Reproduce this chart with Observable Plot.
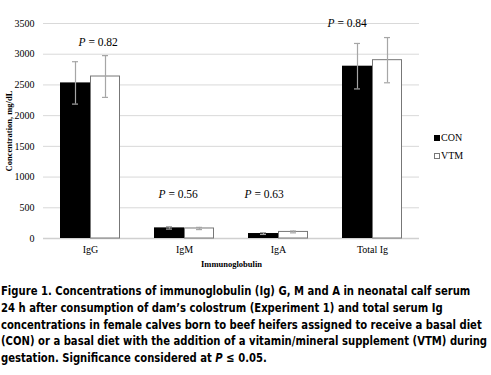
<!DOCTYPE html>
<html>
<head>
<meta charset="utf-8">
<script src="https://cdn.jsdelivr.net/npm/d3@7"></script>
<script src="https://cdn.jsdelivr.net/npm/@observablehq/plot@0.6"></script>
<style>
  html, body { margin: 0; padding: 0; background: #fff; }
  #wrap { position: relative; width: 491px; overflow: hidden; }
  [aria-label="y-axis label"], [aria-label="x-axis label"] { font-weight: bold; font-size: 8.5px; }
  #legend { position: absolute; left: 434px; top: 129px; font: 10px "Liberation Serif", serif; color: #000; line-height: 18px; }
  #legend .sw { display: inline-block; width: 6px; height: 6px; margin-right: 1px; vertical-align: 0px; box-sizing: border-box; }
  #caption { font-family: "DejaVu Sans Condensed", "DejaVu Sans", sans-serif; font-stretch: condensed; font-weight: bold; font-size: 13px; line-height: 16.8px; margin: 11px 0 0 1px; color: #000; white-space: nowrap; transform-origin: 0 0; display: inline-block; }
</style>
</head>
<body>
<div id="wrap">
  <div id="chart"></div>
  <div id="legend">
    <div><span class="sw" style="background:#000"></span>CON</div>
    <div><span class="sw" style="background:#fff;border:1px solid #777"></span>VTM</div>
  </div>
  <div id="caption">Figure 1. Concentrations of immunoglobulin (Ig) G, M and A in neonatal calf serum<br>24 h after consumption of dam’s colostrum (Experiment 1) and total serum Ig<br>concentrations in female calves born to beef heifers assigned to receive a basal diet<br>(CON) or a basal diet with the addition of a vitamin/mineral supplement (VTM) during<br>gestation. Significance considered at <i>P</i> ≤ 0.05.</div>
</div>
<script>
const categories = ["IgG", "IgM", "IgA", "Total Ig"];
const conMean = [2533, 173, 81, 2805];
const conSE   = [345, 20, 15, 370];
const vtmMean = [2637, 163, 107, 2903];
const vtmSE   = [340, 18, 15, 368];
const pValues = ["0.82", "0.56", "0.63", "0.84"];
const pLabelY = [3191, 721, 721, 3500];
const pLabelShift = [-5, -19, -27, -38];
const yTicks = [0, 500, 1000, 1500, 2000, 2500, 3000, 3500];

const con = categories.map((c, i) => ({cat: c, v: conMean[i], lo: conMean[i] - conSE[i], hi: conMean[i] + conSE[i]}));
const vtm = categories.map((c, i) => ({cat: c, v: vtmMean[i], lo: vtmMean[i] - vtmSE[i], hi: vtmMean[i] + vtmSE[i]}));
const pl = categories.map((c, i) => ({cat: c, y: pLabelY[i], p: pValues[i], shift: pLabelShift[i]}));

const serif = "'Liberation Serif', 'Times New Roman', serif";
const errColor = "#a6a6a6";

const marks = [
  Plot.gridY(yTicks, {stroke: "#d9d9d9", strokeOpacity: 1}),
  Plot.ruleY([0], {stroke: "#d0d0d0", strokeWidth: 1.5}),
  Plot.barY(con, {x: "cat", y: "v", fill: "#000", insetRight: 30}),
  Plot.barY(vtm, {x: "cat", y: "v", fill: "#fff", stroke: "#777", strokeWidth: 1, insetLeft: 30.5, insetRight: 0.5}),
  Plot.ruleX(con, {x: "cat", y1: "lo", y2: "hi", stroke: errColor, strokeWidth: 1.2, dx: -15}),
  Plot.ruleX(vtm, {x: "cat", y1: "lo", y2: "hi", stroke: errColor, strokeWidth: 1.2, dx: 15}),
  Plot.tickY(con, {x: "cat", y: "lo", stroke: errColor, strokeWidth: 1.2, insetLeft: 12, insetRight: 42}),
  Plot.tickY(con, {x: "cat", y: "hi", stroke: errColor, strokeWidth: 1.2, insetLeft: 12, insetRight: 42}),
  Plot.tickY(vtm, {x: "cat", y: "lo", stroke: errColor, strokeWidth: 1.2, insetLeft: 42, insetRight: 12}),
  Plot.tickY(vtm, {x: "cat", y: "hi", stroke: errColor, strokeWidth: 1.2, insetLeft: 42, insetRight: 12})
];
pl.forEach(d => {
  marks.push(Plot.text([d], {x: "cat", y: "y", text: () => "P", fontStyle: "italic", textAnchor: "end", dx: d.shift, fontSize: 11.5, fontFamily: serif, fill: "#000"}));
  marks.push(Plot.text([d], {x: "cat", y: "y", text: e => " = " + e.p, textAnchor: "start", dx: d.shift, fontSize: 11.5, fontFamily: serif, fill: "#000"}));
});

const chart = Plot.plot({
  width: 491,
  height: 272,
  marginLeft: 43,
  marginRight: 72,
  marginTop: 23,
  marginBottom: 34,
  style: {fontFamily: serif, fontSize: "10px", color: "#000", background: "#fff"},
  x: {domain: categories, paddingInner: 0.362, paddingOuter: 0.181, label: "Immunoglobulin", labelAnchor: "center", labelOffset: 28, tickSize: 0, tickPadding: 7},
  y: {domain: [0, 3500], ticks: yTicks, tickFormat: d => String(d), label: "Concentration, mg/dL", labelAnchor: "center", labelArrow: "none", labelOffset: 38, tickSize: 0, tickPadding: 9},
  marks
});
document.getElementById("chart").appendChild(chart);

const cap = document.getElementById("caption");
const w = cap.getBoundingClientRect().width;
const s = 486 / w;
cap.style.transform = `scaleX(${s})`;
</script>
</body>
</html>
